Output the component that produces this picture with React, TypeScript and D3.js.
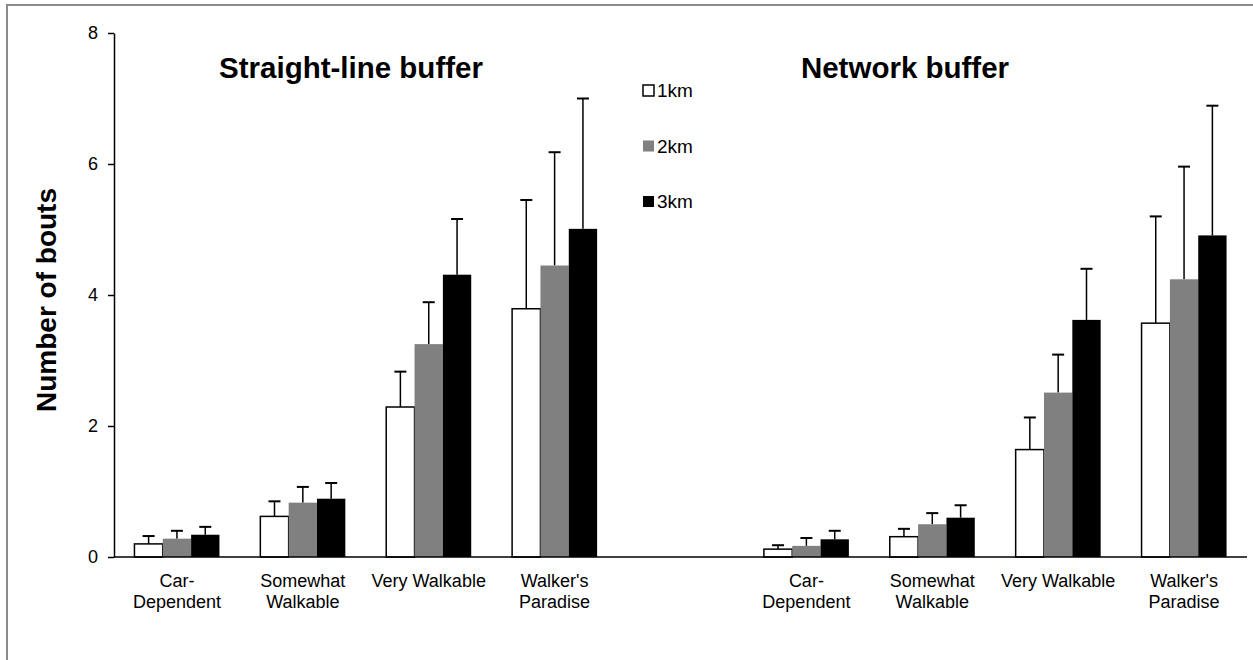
import React, { useEffect, useRef } from "react";
import * as d3 from "d3";

// categories along the x axis (empty slot separates the two panels)
const categories = ["Car-Dependent", "Somewhat Walkable", "Very Walkable", "Walker's Paradise"];
const categoryLabels = [["Car-", "Dependent"], ["Somewhat", "Walkable"], ["Very Walkable"], ["Walker's", "Paradise"]];
const buffers = ["1km", "2km", "3km"];
const panelTitles = ["Straight-line buffer", "Network buffer"];
const yTicks = [0, 2, 4, 6, 8];

// means per buffer, straight-line panel
const straight1km = [0.2, 0.62, 2.29, 3.79];
const straight2km = [0.28, 0.83, 3.25, 4.45];
const straight3km = [0.34, 0.89, 4.31, 5.01];
// upper error values, straight-line panel
const straight1kmErr = [0.32, 0.85, 2.83, 5.45];
const straight2kmErr = [0.4, 1.07, 3.89, 6.18];
const straight3kmErr = [0.46, 1.13, 5.16, 7.0];

// network panel
const network1km = [0.12, 0.31, 1.64, 3.57];
const network2km = [0.17, 0.5, 2.51, 4.24];
const network3km = [0.27, 0.6, 3.62, 4.91];
const network1kmErr = [0.18, 0.43, 2.13, 5.2];
const network2kmErr = [0.29, 0.67, 3.09, 5.96];
const network3kmErr = [0.4, 0.79, 4.4, 6.89];

const fills = ["#ffffff", "#808080", "#000000"];

export default function App() {
  const ref = useRef<SVGSVGElement>(null);

  useEffect(() => {
    const svg = d3.select(ref.current);
    svg.selectAll("*").remove();
    const font = "Liberation Sans, Arial, sans-serif";

    // outer frame
    svg
      .append("rect")
      .attr("x", 7)
      .attr("y", 5)
      .attr("width", 1400)
      .attr("height", 800)
      .attr("fill", "white")
      .attr("stroke", "#8c8c8c")
      .attr("stroke-width", 2);

    const slots = [
      ...categories.map((c) => "L|" + c),
      "gap",
      ...categories.map((c) => "R|" + c),
    ];
    const x = d3.scaleBand().domain(slots).range([114, 1247]);
    const inner = d3.scaleBand().domain(buffers).range([0, 85]);
    const y = d3.scaleLinear().domain([0, 8]).range([557, 33]);

    const panels = [
      { key: "L", means: [straight1km, straight2km, straight3km], errs: [straight1kmErr, straight2kmErr, straight3kmErr] },
      { key: "R", means: [network1km, network2km, network3km], errs: [network1kmErr, network2kmErr, network3kmErr] },
    ];

    const rows: { slot: string; b: number; v: number; e: number }[] = [];
    panels.forEach((p) => {
      categories.forEach((c, ci) => {
        buffers.forEach((_, bi) => {
          rows.push({ slot: p.key + "|" + c, b: bi, v: p.means[bi][ci], e: p.errs[bi][ci] });
        });
      });
    });

    const barX = (d: { slot: string; b: number }) =>
      (x(d.slot) as number) + (x.bandwidth() - 85) / 2 + (inner(buffers[d.b]) as number);

    // error bars (upper only)
    const eg = svg.append("g").attr("stroke", "black").attr("stroke-width", 1.5);
    rows.forEach((d) => {
      const cx = barX(d) + inner.bandwidth() / 2;
      eg.append("line").attr("x1", cx).attr("x2", cx).attr("y1", y(d.v)).attr("y2", y(d.e));
      eg.append("line").attr("x1", cx - 6).attr("x2", cx + 6).attr("y1", y(d.e)).attr("y2", y(d.e)).attr("stroke-width", 2);
    });

    // bars
    svg
      .append("g")
      .selectAll("rect")
      .data(rows)
      .enter()
      .append("rect")
      .attr("x", (d) => barX(d))
      .attr("y", (d) => y(d.v))
      .attr("width", inner.bandwidth())
      .attr("height", (d) => y(0) - y(d.v))
      .attr("fill", (d) => fills[d.b])
      .attr("stroke", (d) => (d.b === 0 ? "black" : "none"))
      .attr("stroke-width", 1.5);

    // y axis
    const ya = svg
      .append("g")
      .attr("transform", "translate(114,0)")
      .call(d3.axisLeft(y).tickValues(yTicks).tickFormat(d3.format("d")).tickSize(6).tickSizeOuter(0).tickPadding(10));
    ya.select(".domain").attr("stroke-width", 1.5);
    ya.selectAll("line").attr("stroke-width", 1.5);
    ya.selectAll("text").attr("font-family", font).attr("font-size", 18).attr("fill", "black");

    // x axis baseline
    svg
      .append("line")
      .attr("x1", 114)
      .attr("x2", 1247)
      .attr("y1", y(0))
      .attr("y2", y(0))
      .attr("stroke", "black")
      .attr("stroke-width", 1.5);

    // category labels
    panels.forEach((p) => {
      categories.forEach((c, ci) => {
        const cx = (x(p.key + "|" + c) as number) + x.bandwidth() / 2;
        const t = svg
          .append("text")
          .attr("text-anchor", "middle")
          .attr("font-family", font)
          .attr("font-size", 18)
          .attr("fill", "black");
        categoryLabels[ci].forEach((line, li) => {
          t.append("tspan").attr("x", cx).attr("y", 587 + li * 21).text(line);
        });
      });
    });

    // panel titles
    svg
      .append("text")
      .attr("x", 351)
      .attr("y", 78)
      .attr("text-anchor", "middle")
      .attr("font-family", font)
      .attr("font-weight", "bold")
      .attr("font-size", 29.5)
      .text(panelTitles[0]);
    svg
      .append("text")
      .attr("x", 905)
      .attr("y", 78)
      .attr("text-anchor", "middle")
      .attr("font-family", font)
      .attr("font-weight", "bold")
      .attr("font-size", 29.5)
      .text(panelTitles[1]);

    // y axis title
    svg
      .append("text")
      .attr("transform", "translate(56,300) rotate(-90)")
      .attr("text-anchor", "middle")
      .attr("font-family", font)
      .attr("font-weight", "bold")
      .attr("font-size", 28)
      .text("Number of bouts");

    // legend
    const lg = svg.append("g").attr("transform", "translate(643,0)");
    buffers.forEach((b, i) => {
      const ly = 90 + i * 55.5;
      lg.append("rect")
        .attr("x", 0)
        .attr("y", ly - 5)
        .attr("width", 11)
        .attr("height", 11)
        .attr("fill", fills[i])
        .attr("stroke", i === 0 ? "black" : "none")
        .attr("stroke-width", 1.5);
      lg.append("text")
        .attr("x", 14)
        .attr("y", ly + 7)
        .attr("font-family", font)
        .attr("font-size", 19)
        .text(b);
    });
  });

  return (
    <svg
      ref={ref}
      width={1253}
      height={660}
      style={{ position: "absolute", left: 0, top: 0, background: "white" }}
    ></svg>
  );
}
